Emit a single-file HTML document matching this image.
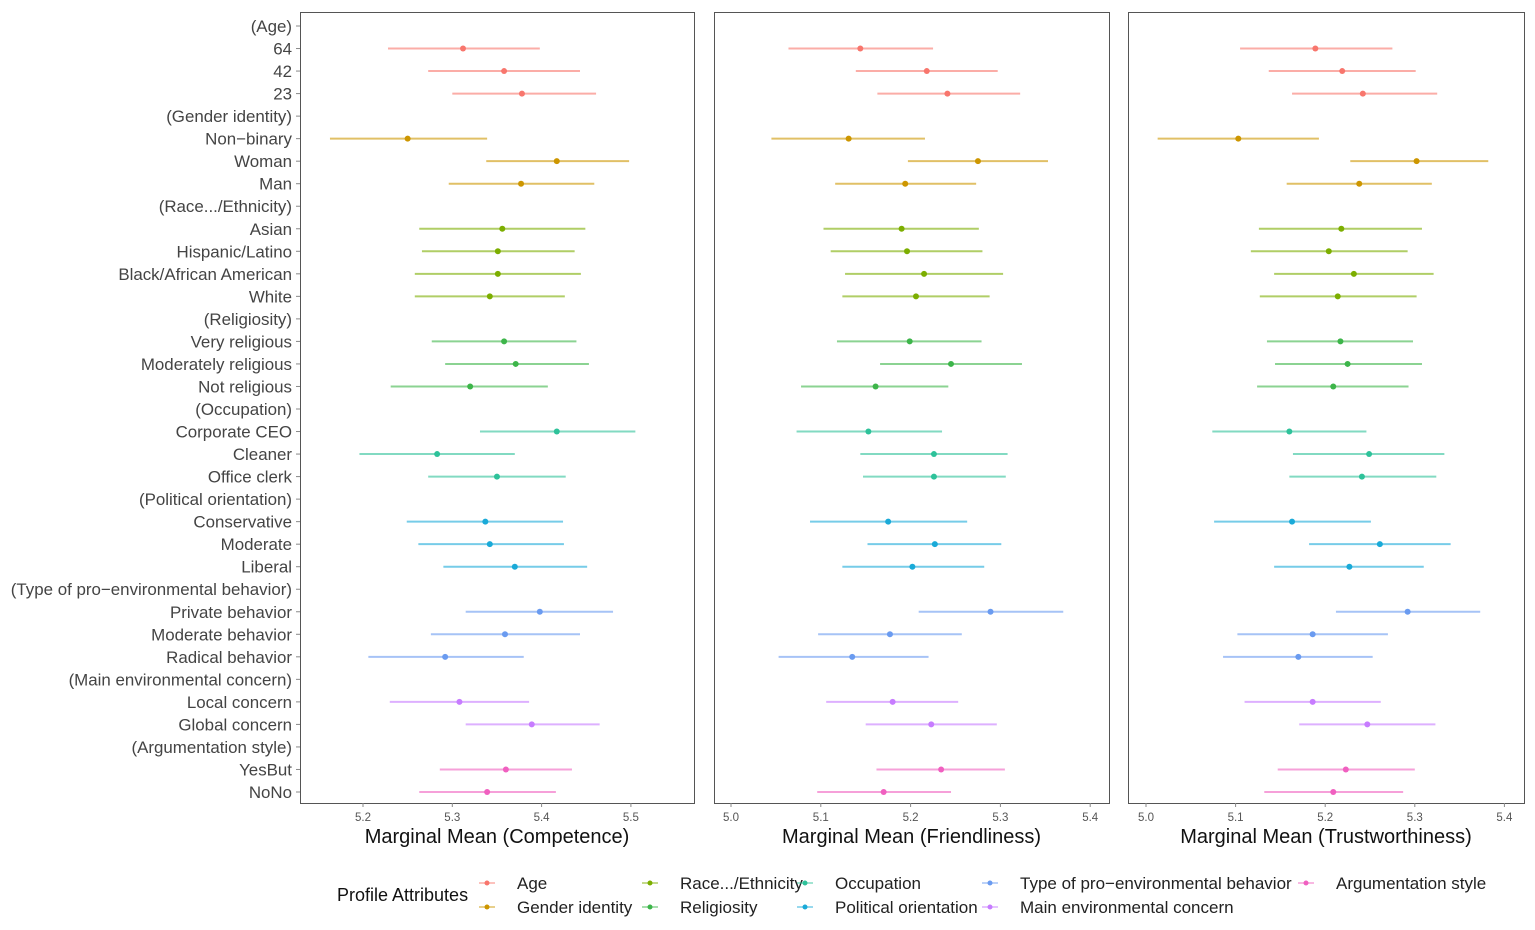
<!DOCTYPE html>
<html><head><meta charset="utf-8"><style>
html,body{margin:0;padding:0;background:#fff;}
svg{display:block;font-family:"Liberation Sans",sans-serif;}
</style></head><body>
<svg id="chart" width="1535" height="930"></svg>
<script>
const rowLabels=["(Age)","64","42","23","(Gender identity)","Non\u2212binary","Woman","Man","(Race.../Ethnicity)","Asian","Hispanic/Latino","Black/African American","White","(Religiosity)","Very religious","Moderately religious","Not religious","(Occupation)","Corporate CEO","Cleaner","Office clerk","(Political orientation)","Conservative","Moderate","Liberal","(Type of pro\u2212environmental behavior)","Private behavior","Moderate behavior","Radical behavior","(Main environmental concern)","Local concern","Global concern","(Argumentation style)","YesBut","NoNo"];
const rowGroup=[-1,0,0,0,-1,1,1,1,-1,2,2,2,2,-1,3,3,3,-1,4,4,4,-1,5,5,5,-1,6,6,6,-1,7,7,-1,8,8];
const groupNames=["Age","Gender identity","Race.../Ethnicity","Religiosity","Occupation","Political orientation","Type of pro\u2212environmental behavior","Main environmental concern","Argumentation style"];
const compEst=[5.312,5.358,5.378,5.250,5.417,5.377,5.356,5.351,5.351,5.342,5.358,5.371,5.320,5.417,5.283,5.350,5.337,5.342,5.370,5.398,5.359,5.292,5.308,5.389,5.360,5.339];
const compLo=[5.228,5.273,5.300,5.163,5.338,5.296,5.263,5.266,5.258,5.258,5.277,5.292,5.231,5.331,5.196,5.273,5.249,5.262,5.290,5.315,5.276,5.206,5.230,5.315,5.286,5.263];
const compHi=[5.398,5.443,5.461,5.339,5.498,5.459,5.449,5.437,5.444,5.426,5.439,5.453,5.407,5.505,5.370,5.427,5.424,5.425,5.451,5.480,5.443,5.380,5.386,5.465,5.434,5.416];
const friEst=[5.144,5.218,5.241,5.131,5.275,5.194,5.190,5.196,5.215,5.206,5.199,5.245,5.161,5.153,5.226,5.226,5.175,5.227,5.202,5.289,5.177,5.135,5.180,5.223,5.234,5.170];
const friLo=[5.064,5.139,5.163,5.045,5.197,5.116,5.103,5.111,5.127,5.124,5.118,5.166,5.078,5.073,5.144,5.147,5.088,5.152,5.124,5.209,5.097,5.053,5.106,5.150,5.162,5.096];
const friHi=[5.225,5.297,5.322,5.216,5.353,5.273,5.276,5.280,5.303,5.288,5.279,5.324,5.242,5.235,5.308,5.306,5.263,5.301,5.282,5.370,5.257,5.220,5.253,5.296,5.305,5.245];
const truEst=[5.189,5.219,5.242,5.103,5.302,5.238,5.218,5.204,5.232,5.214,5.217,5.225,5.209,5.160,5.249,5.241,5.163,5.261,5.227,5.292,5.186,5.170,5.186,5.247,5.223,5.209];
const truLo=[5.105,5.137,5.163,5.013,5.228,5.157,5.126,5.117,5.143,5.127,5.135,5.144,5.124,5.074,5.164,5.160,5.076,5.182,5.143,5.212,5.102,5.086,5.110,5.171,5.147,5.132];
const truHi=[5.275,5.301,5.325,5.193,5.382,5.319,5.308,5.292,5.321,5.302,5.298,5.308,5.293,5.246,5.333,5.324,5.251,5.340,5.310,5.373,5.270,5.253,5.262,5.323,5.300,5.287];
const compTicks=[5.2,5.3,5.4,5.5];
const otherTicks=[5.0,5.1,5.2,5.3,5.4];

const colors=["#F8766D","#CD9600","#7CAE00","#3DB54A","#2EC29A","#1AAAD8","#6A9BF0","#C77CFF","#F060C0"];
const NS="http://www.w3.org/2000/svg";
const svg=document.getElementById('chart');
function mk(tag,attrs,parent){const e=document.createElementNS(NS,tag);for(const k in attrs)e.setAttribute(k,attrs[k]);(parent||svg).appendChild(e);return e;}
const top0=12,bot0=803,rowY0=26,rowStep=(792-26)/34;
function yS(i){return rowY0+i*rowStep;}

rowLabels.forEach((l,i)=>{
  const t=mk('text',{x:292,y:yS(i)+6,'text-anchor':'end','font-size':16.9,fill:'#444'});
  
  
  t.textContent=l;
  const tk=mk('line',{x1:296,x2:300,y1:yS(i),y2:yS(i),stroke:'#888'});
  
  
});

const panels=[
 {x0:300,x1:694,vmin:5.2,px:363,scale:893,est:compEst,lo:compLo,hi:compHi,ticks:compTicks,title:"Marginal Mean (Competence)",name:'competence'},
 {x0:714,x1:1109,vmin:5.0,px:731,scale:898,est:friEst,lo:friLo,hi:friHi,ticks:otherTicks,title:"Marginal Mean (Friendliness)",name:'friendliness'},
 {x0:1128,x1:1524,vmin:5.0,px:1146,scale:896,est:truEst,lo:truLo,hi:truHi,ticks:otherTicks,title:"Marginal Mean (Trustworthiness)",name:'trustworthiness'}
];
panels.forEach(p=>{
  const g=mk('g',{});
  
  
  const xS=v=>p.px+(v-p.vmin)*p.scale;
  const fr=mk('rect',{x:p.x0+0.5,y:top0+0.5,width:p.x1-p.x0,height:bot0-top0,fill:'none',stroke:'#555','stroke-width':1},g);
  
  
  p.ticks.forEach(v=>{
    const x=xS(v);
    mk('line',{x1:x,x2:x,y1:bot0,y2:bot0+4,stroke:'#888'},g);
    const t=mk('text',{x:x,y:821,'text-anchor':'middle','font-size':11.5,fill:'#555'},g);
    
    
    t.textContent=v.toFixed(1);
  });
  const tt=mk('text',{x:(p.x0+p.x1)/2,y:843,'text-anchor':'middle','font-size':20,fill:'#111'},g);
  
  
  tt.textContent=p.title;
  let k=0;
  rowGroup.forEach((gr,i)=>{
    if(gr<0)return;
    const y=yS(i),c=colors[gr];
    const ln=mk('line',{x1:xS(p.lo[k]),x2:xS(p.hi[k]),y1:y,y2:y,stroke:c,'stroke-width':2,'stroke-opacity':0.6},g);
    
    
    const pt=mk('circle',{cx:xS(p.est[k]),cy:y,r:3,fill:c},g);
    
    
    k++;
  });
});

const lg=mk('g',{});


const lt=mk('text',{x:337,y:901,'font-size':18,fill:'#111'},lg);


lt.textContent="Profile Attributes";
const legX=[487,487,650,650,805,805,990,990,1306];
const legY=[883,907,883,907,883,907,883,907,883];
groupNames.forEach((n,i)=>{
  const x=legX[i],y=legY[i],c=colors[i];
  mk('line',{x1:x-8,x2:x+8,y1:y,y2:y,stroke:c,'stroke-width':1.5,'stroke-opacity':0.6},lg);
  mk('circle',{cx:x,cy:y,r:2.5,fill:c},lg);
  const t=mk('text',{x:x+30,y:y+6,'font-size':17,fill:'#222'},lg);
  
  
  t.textContent=n;
});
</script>
</body></html>
